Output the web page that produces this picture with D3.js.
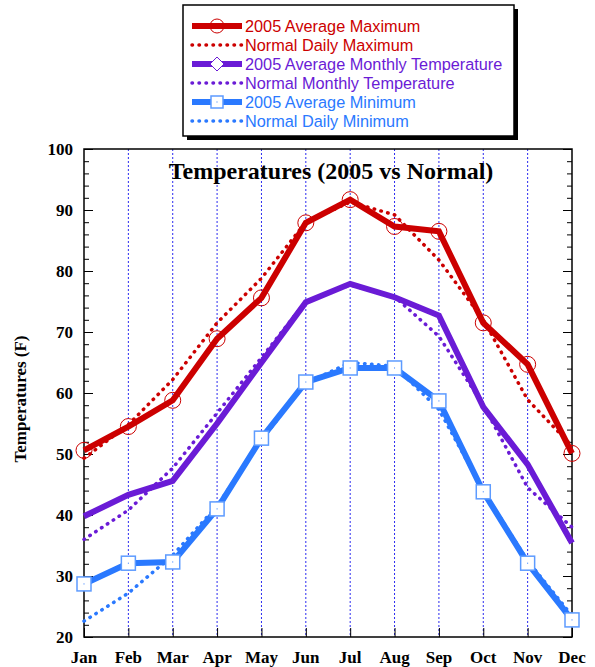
<!DOCTYPE html>
<html>
<head>
<meta charset="utf-8">
<script src="https://cdn.jsdelivr.net/npm/d3@7"></script>
<style>
  body { margin: 0; background: #fff; }
  svg { display: block; }
</style>
</head>
<body>
<script>
const months = ["Jan","Feb","Mar","Apr","May","Jun","Jul","Aug","Sep","Oct","Nov","Dec"]

const maxActual   = [50.6, 54.5, 58.8, 68.9, 75.6, 87.9, 91.7, 87.3, 86.5, 71.5, 64.7, 50.1]
const maxNormal   = [49.3, 54.8, 62.2, 71.5, 78.8, 88.0, 91.3, 89.2, 81.8, 72.0, 58.9, 51.3]
const avgActual   = [39.8, 43.3, 45.6, 55.0, 65.0, 74.9, 77.9, 75.7, 72.7, 57.7, 48.3, 35.4]
const avgNormal   = [36.0, 40.8, 47.7, 56.7, 65.8, 75.0, 77.7, 75.8, 69.3, 58.0, 44.5, 38.0]
const minActual   = [28.7, 32.1, 32.3, 41.0, 52.6, 61.8, 64.1, 64.1, 58.7, 43.8, 32.1, 22.8]
const minNormal   = [22.6, 27.2, 33.4, 41.5, 52.3, 61.6, 65.0, 64.4, 57.3, 44.0, 32.5, 23.5]

const yTicks = [20, 30, 40, 50, 60, 70, 80, 90, 100]

const red = "#cc0000", purple = "#6a1bd6", blue = "#2a79ff"

const series = [
  {name: "2005 Average Maximum", values: maxActual, color: red, dotted: false, marker: "circle"},
  {name: "Normal Daily Maximum", values: maxNormal, color: red, dotted: true},
  {name: "2005 Average Monthly Temperature", values: avgActual, color: purple, dotted: false, marker: "diamond"},
  {name: "Normal Monthly Temperature", values: avgNormal, color: purple, dotted: true},
  {name: "2005 Average Minimum", values: minActual, color: blue, dotted: false, marker: "square"},
  {name: "Normal Daily Minimum", values: minNormal, color: blue, dotted: true}
]

const width = 595, height = 667
const m = {left: 84, right: 23, top: 149, bottom: 30}

const svg = d3.select("body").append("svg")
    .attr("width", width)
    .attr("height", height)

const x = d3.scalePoint().domain(months).range([m.left, width - m.right])
const y = d3.scaleLinear().domain([20, 100]).range([height - m.bottom, m.top])

const serif = "'Liberation Serif','Times New Roman',serif"
const sans = "'Liberation Sans',Arial,sans-serif"

// vertical dotted grid
svg.append("g").selectAll("line")
    .data(months.slice(1, -1))
    .join("line")
    .attr("x1", d => x(d)).attr("x2", d => x(d))
    .attr("y1", y(100)).attr("y2", y(20))
    .attr("stroke", "#2b2bf0")
    .attr("stroke-width", 1)
    .attr("stroke-dasharray", "2,2")

// axes (ticks pointing inward)
const minor = d3.range(20, 101, 2)
const yLeft = svg.append("g").attr("transform", `translate(${m.left},0)`)
    .call(d3.axisRight(y).tickValues(minor).tickSize(5).tickFormat(""))
yLeft.selectAll(".tick line").attr("x2", d => d % 10 === 0 ? 9 : 5).attr("stroke", "#000")
yLeft.select(".domain").remove()

const yRight = svg.append("g").attr("transform", `translate(${width - m.right},0)`)
    .call(d3.axisLeft(y).tickValues(minor).tickSize(5).tickFormat(""))
yRight.selectAll(".tick line").attr("x2", d => d % 10 === 0 ? -9 : -5).attr("stroke", "#000")
yRight.select(".domain").remove()

const xBottom = svg.append("g").attr("transform", `translate(0,${height - m.bottom})`)
    .call(d3.axisTop(x).tickSize(9).tickFormat(""))
xBottom.select(".domain").remove()
xBottom.selectAll(".tick line").attr("stroke", "#000")

// frame
svg.append("rect")
    .attr("x", m.left).attr("y", m.top)
    .attr("width", width - m.left - m.right)
    .attr("height", height - m.top - m.bottom)
    .attr("fill", "none").attr("stroke", "#000").attr("stroke-width", 1.5)

// tick labels
svg.append("g").selectAll("text")
    .data(yTicks)
    .join("text")
    .attr("x", m.left - 11).attr("y", d => y(d))
    .attr("dy", "0.35em")
    .attr("text-anchor", "end")
    .attr("font-family", serif).attr("font-weight", "bold").attr("font-size", 17)
    .text(d => d)

svg.append("g").selectAll("text")
    .data(months)
    .join("text")
    .attr("x", d => x(d)).attr("y", height - 4)
    .attr("text-anchor", "middle")
    .attr("font-family", serif).attr("font-weight", "bold").attr("font-size", 17)
    .text(d => d)

svg.append("text")
    .attr("transform", `translate(26,${(m.top + height - m.bottom) / 2 + 6}) rotate(-90)`)
    .attr("text-anchor", "middle")
    .attr("font-family", serif).attr("font-weight", "bold").attr("font-size", 17)
    .text("Temperatures (F)")

svg.append("text")
    .attr("x", 331).attr("y", 179)
    .attr("text-anchor", "middle")
    .attr("font-family", serif).attr("font-weight", "bold").attr("font-size", 24)
    .text("Temperatures (2005 vs Normal)")

// lines
const line = d3.line().x((d, i) => x(months[i])).y(d => y(d))

function styleLine(sel, s) {
  if (s.dotted) {
    sel.attr("stroke-width", 3.5).attr("stroke-linecap", "round").attr("stroke-dasharray", "0.5,6.5")
  } else {
    sel.attr("stroke-width", 6).attr("stroke-linejoin", "miter")
  }
  return sel.attr("stroke", s.color).attr("fill", "none")
}

series.filter(s => s.dotted).concat(series.filter(s => !s.dotted)).forEach(s => {
  styleLine(svg.append("path").datum(s.values).attr("d", line), s)
})

function drawMarker(g, type, color, cx, cy, r) {
  if (type === "circle") {
    g.append("circle").attr("cx", cx).attr("cy", cy).attr("r", r)
      .attr("fill", "none").attr("stroke", color).attr("stroke-width", 1)
  } else if (type === "square") {
    g.append("rect").attr("x", cx - r + 1).attr("y", cy - r + 1).attr("width", 2 * r - 2).attr("height", 2 * r - 2)
      .attr("fill", "#fff").attr("stroke", "#5d9bff").attr("stroke-width", 1.5)
    g.append("rect").attr("x", cx - 0.5).attr("y", cy - 0.5).attr("width", 1).attr("height", 1)
      .attr("fill", color)
  } else if (type === "diamond") {
    g.append("path").attr("d", `M${cx},${cy - r}L${cx + r},${cy}L${cx},${cy + r}L${cx - r},${cy}Z`)
      .attr("fill", "#fff").attr("stroke", color).attr("stroke-width", 1)
  }
}

const markers = svg.append("g")
series.filter(s => s.marker && s.marker !== "diamond").forEach(s => {
  s.values.forEach((v, i) => drawMarker(markers, s.marker, s.color, x(months[i]), y(v), 8))
})

// legend
const lg = svg.append("g")
lg.append("rect").attr("x", 187).attr("y", 9).attr("width", 331).attr("height", 131).attr("fill", "#000")
lg.append("rect").attr("x", 183).attr("y", 5).attr("width", 331).attr("height", 131)
    .attr("fill", "#fff").attr("stroke", "#000").attr("stroke-width", 1.5)

series.forEach((s, i) => {
  const ly = 26 + i * 19
  styleLine(lg.append("line").attr("x1", 192).attr("x2", 242).attr("y1", ly).attr("y2", ly), s)
  if (s.marker) drawMarker(lg, s.marker, s.color, 217, ly, 7)
  lg.append("text").attr("x", 245).attr("y", ly).attr("dy", "0.35em")
    .attr("font-family", sans).attr("font-size", 16.3)
    .attr("fill", s.color)
    .text(s.name)
})
</script>
</body>
</html>
